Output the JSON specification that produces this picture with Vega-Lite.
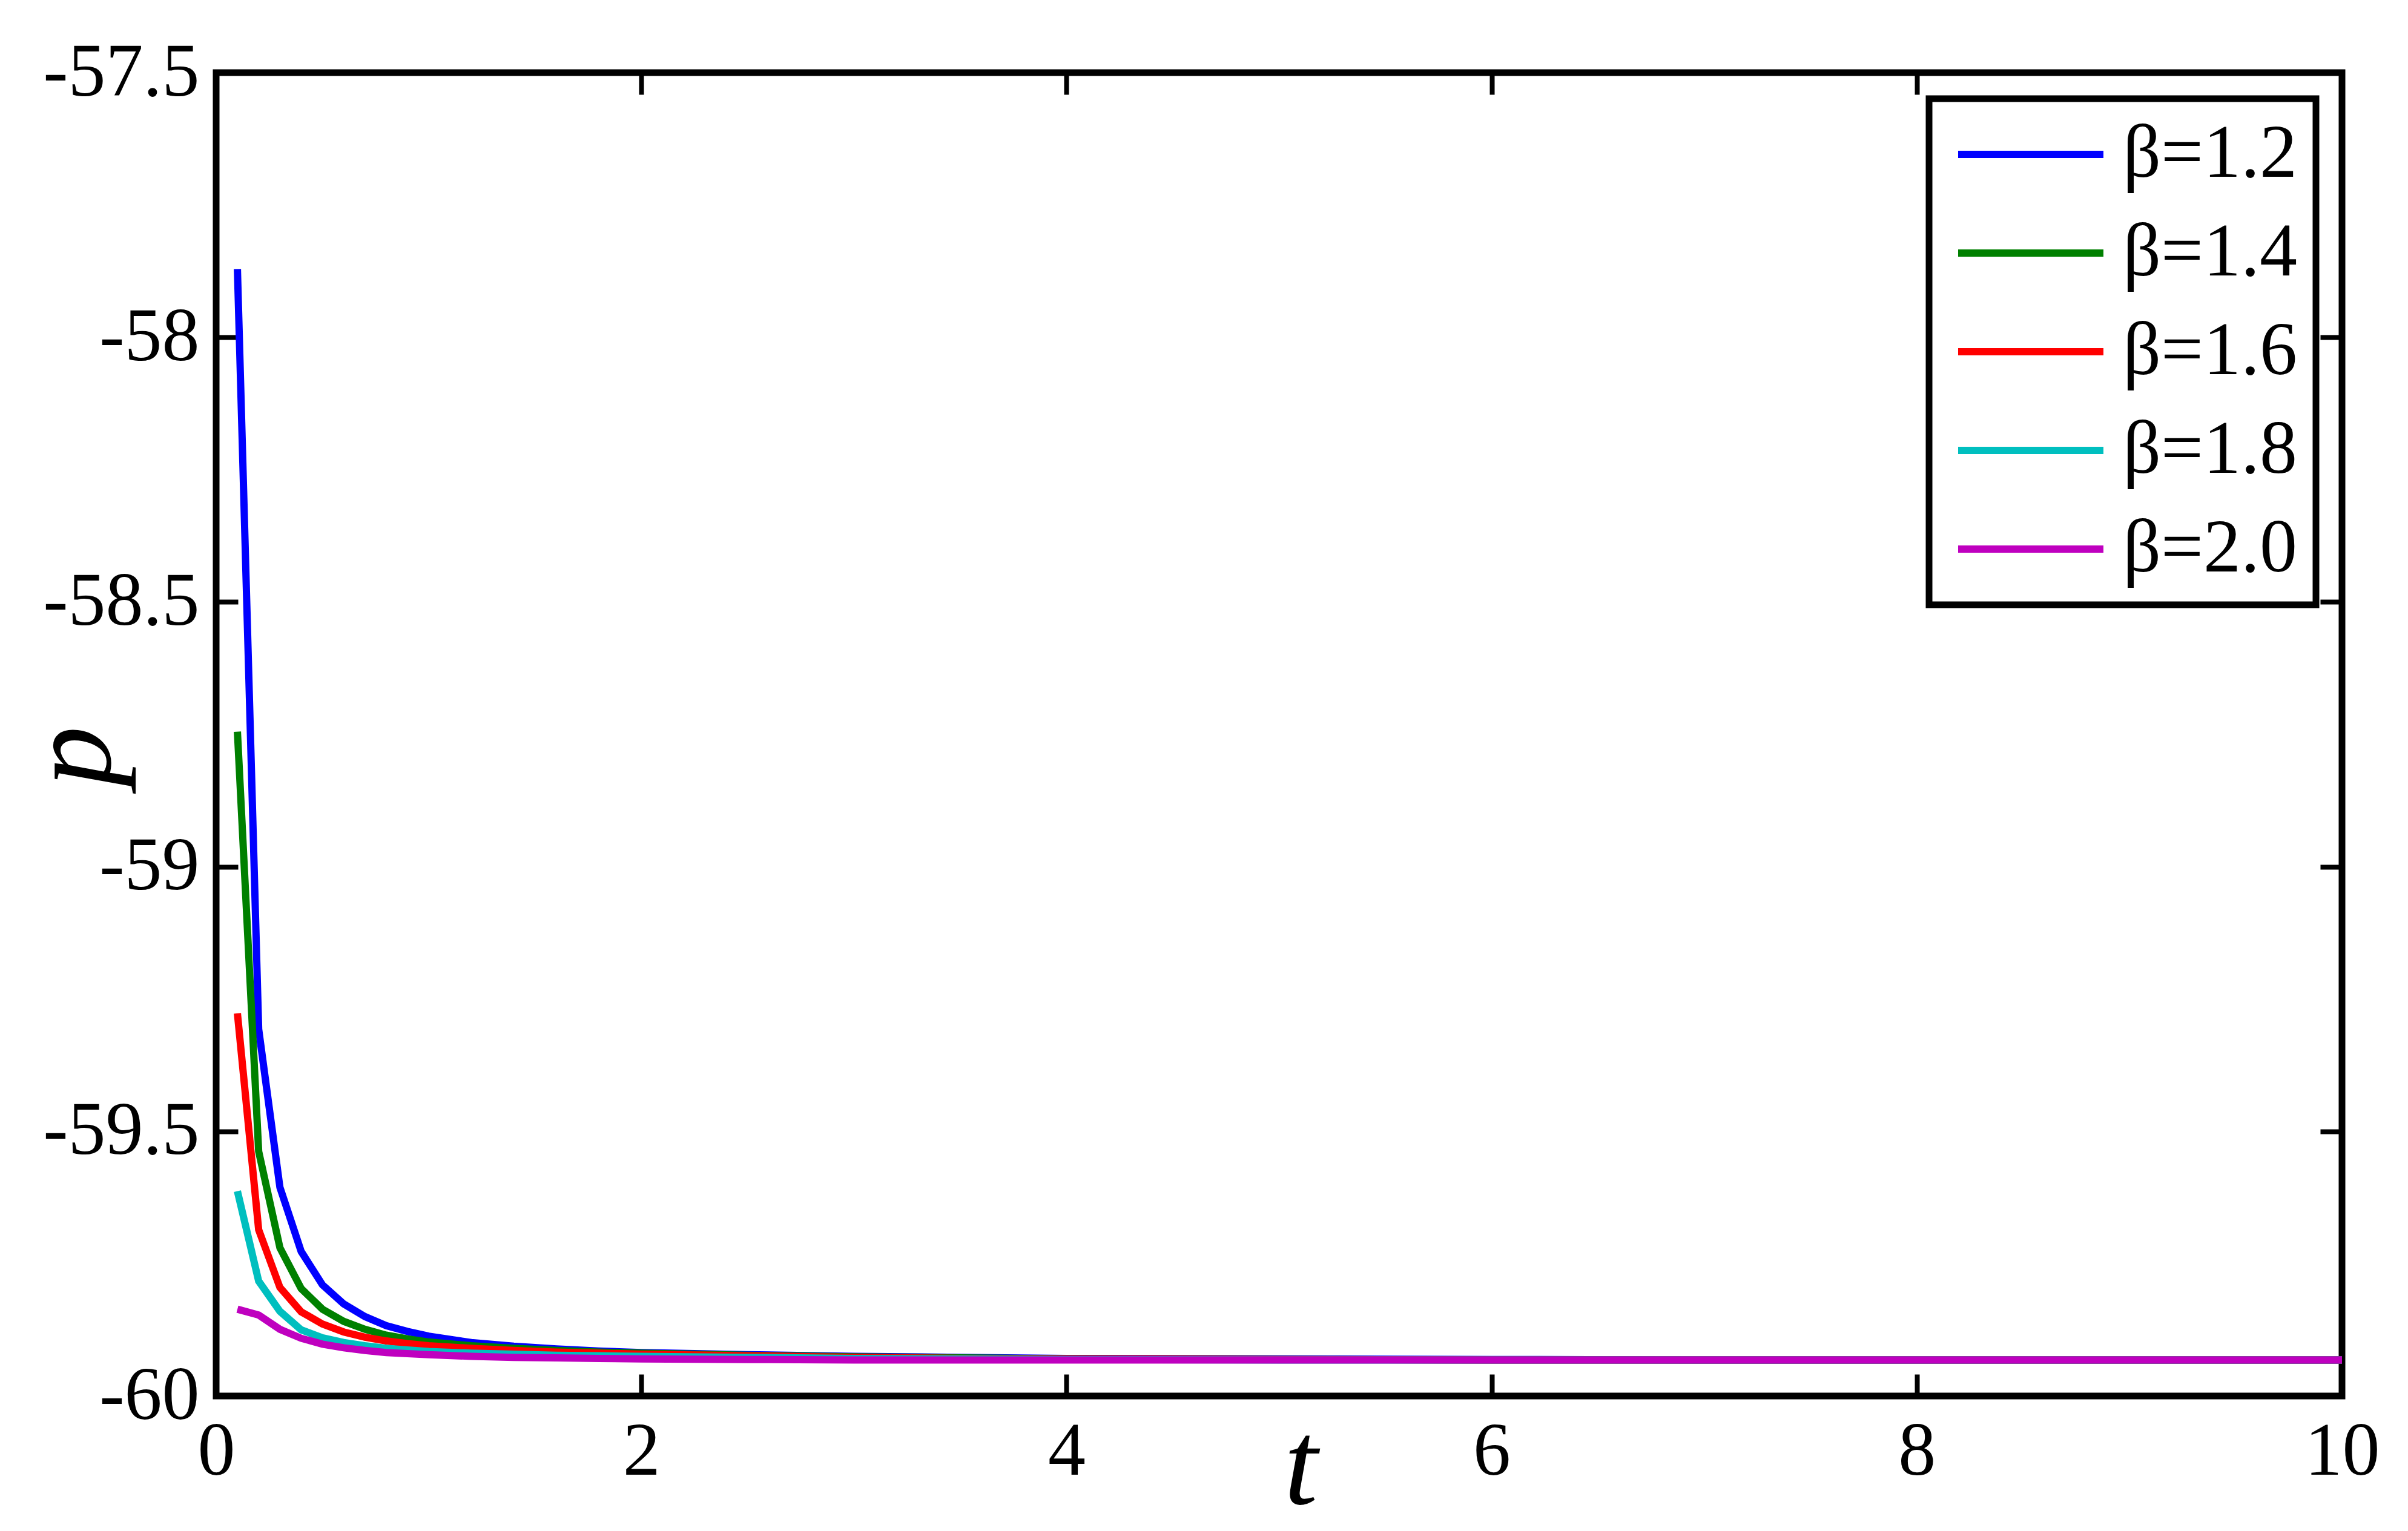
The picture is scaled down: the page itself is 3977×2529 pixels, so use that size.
{
 "$schema": "https://vega.github.io/schema/vega-lite/v6.json",
 "autosize": {"type": "none"},
 "padding": {"left": 357, "top": 120, "right": 109, "bottom": 223},
 "width": 3511,
 "height": 2186,
 "background": "white",
 "config": {
  "view": {"stroke": "black", "strokeWidth": 11},
  "axis": {"domain": false, "grid": false, "ticks": true, "tickSize": -36, "tickWidth": 8, "tickColor": "black",
   "labelFont": "Liberation Serif", "labelFontSize": 124, "labelColor": "black", "labelFlush": false, "labelOverlap": false, "labelBound": false, "labelLimit": 0,
   "titleFont": "Liberation Serif", "titleFontSize": 200, "titleFontStyle": "italic", "titleFontWeight": "normal", "titleColor": "black"},
  "legend": {"strokeWidth": 11}
 },
 "datasets": {
  "d": [
   {"t":0.1,"p":-57.871,"b":"β=1.2"},{"t":0.2,"p":-59.307,"b":"β=1.2"},{"t":0.3,"p":-59.606,"b":"β=1.2"},{"t":0.4,"p":-59.727,"b":"β=1.2"},{"t":0.5,"p":-59.790,"b":"β=1.2"},{"t":0.6,"p":-59.826,"b":"β=1.2"},{"t":0.7,"p":-59.850,"b":"β=1.2"},{"t":0.8,"p":-59.867,"b":"β=1.2"},{"t":0.9,"p":-59.878,"b":"β=1.2"},{"t":1.0,"p":-59.887,"b":"β=1.2"},{"t":1.2,"p":-59.899,"b":"β=1.2"},{"t":1.4,"p":-59.906,"b":"β=1.2"},{"t":1.6,"p":-59.911,"b":"β=1.2"},{"t":1.8,"p":-59.915,"b":"β=1.2"},{"t":2.0,"p":-59.918,"b":"β=1.2"},{"t":2.5,"p":-59.922,"b":"β=1.2"},{"t":3.0,"p":-59.925,"b":"β=1.2"},{"t":3.5,"p":-59.927,"b":"β=1.2"},{"t":4.0,"p":-59.929,"b":"β=1.2"},{"t":5.0,"p":-59.930,"b":"β=1.2"},{"t":6.0,"p":-59.931,"b":"β=1.2"},{"t":7.0,"p":-59.932,"b":"β=1.2"},{"t":8.0,"p":-59.932,"b":"β=1.2"},{"t":9.0,"p":-59.932,"b":"β=1.2"},{"t":10.0,"p":-59.932,"b":"β=1.2"},
   {"t":0.1,"p":-58.745,"b":"β=1.4"},{"t":0.2,"p":-59.538,"b":"β=1.4"},{"t":0.3,"p":-59.720,"b":"β=1.4"},{"t":0.4,"p":-59.797,"b":"β=1.4"},{"t":0.5,"p":-59.836,"b":"β=1.4"},{"t":0.6,"p":-59.859,"b":"β=1.4"},{"t":0.7,"p":-59.874,"b":"β=1.4"},{"t":0.8,"p":-59.885,"b":"β=1.4"},{"t":0.9,"p":-59.892,"b":"β=1.4"},{"t":1.0,"p":-59.898,"b":"β=1.4"},{"t":1.2,"p":-59.905,"b":"β=1.4"},{"t":1.4,"p":-59.910,"b":"β=1.4"},{"t":1.6,"p":-59.914,"b":"β=1.4"},{"t":1.8,"p":-59.917,"b":"β=1.4"},{"t":2.0,"p":-59.919,"b":"β=1.4"},{"t":2.5,"p":-59.923,"b":"β=1.4"},{"t":3.0,"p":-59.926,"b":"β=1.4"},{"t":3.5,"p":-59.928,"b":"β=1.4"},{"t":4.0,"p":-59.930,"b":"β=1.4"},{"t":5.0,"p":-59.931,"b":"β=1.4"},{"t":6.0,"p":-59.932,"b":"β=1.4"},{"t":7.0,"p":-59.932,"b":"β=1.4"},{"t":8.0,"p":-59.932,"b":"β=1.4"},{"t":9.0,"p":-59.932,"b":"β=1.4"},{"t":10.0,"p":-59.932,"b":"β=1.4"},
   {"t":0.1,"p":-59.277,"b":"β=1.6"},{"t":0.2,"p":-59.686,"b":"β=1.6"},{"t":0.3,"p":-59.795,"b":"β=1.6"},{"t":0.4,"p":-59.841,"b":"β=1.6"},{"t":0.5,"p":-59.864,"b":"β=1.6"},{"t":0.6,"p":-59.879,"b":"β=1.6"},{"t":0.7,"p":-59.889,"b":"β=1.6"},{"t":0.8,"p":-59.896,"b":"β=1.6"},{"t":0.9,"p":-59.901,"b":"β=1.6"},{"t":1.0,"p":-59.905,"b":"β=1.6"},{"t":1.2,"p":-59.910,"b":"β=1.6"},{"t":1.4,"p":-59.914,"b":"β=1.6"},{"t":1.6,"p":-59.917,"b":"β=1.6"},{"t":1.8,"p":-59.919,"b":"β=1.6"},{"t":2.0,"p":-59.921,"b":"β=1.6"},{"t":2.5,"p":-59.924,"b":"β=1.6"},{"t":3.0,"p":-59.927,"b":"β=1.6"},{"t":3.5,"p":-59.929,"b":"β=1.6"},{"t":4.0,"p":-59.930,"b":"β=1.6"},{"t":5.0,"p":-59.931,"b":"β=1.6"},{"t":6.0,"p":-59.932,"b":"β=1.6"},{"t":7.0,"p":-59.932,"b":"β=1.6"},{"t":8.0,"p":-59.932,"b":"β=1.6"},{"t":9.0,"p":-59.932,"b":"β=1.6"},{"t":10.0,"p":-59.932,"b":"β=1.6"},
   {"t":0.1,"p":-59.613,"b":"β=1.8"},{"t":0.2,"p":-59.783,"b":"β=1.8"},{"t":0.3,"p":-59.840,"b":"β=1.8"},{"t":0.4,"p":-59.875,"b":"β=1.8"},{"t":0.5,"p":-59.890,"b":"β=1.8"},{"t":0.6,"p":-59.899,"b":"β=1.8"},{"t":0.7,"p":-59.905,"b":"β=1.8"},{"t":0.8,"p":-59.910,"b":"β=1.8"},{"t":0.9,"p":-59.913,"b":"β=1.8"},{"t":1.0,"p":-59.916,"b":"β=1.8"},{"t":1.2,"p":-59.919,"b":"β=1.8"},{"t":1.4,"p":-59.921,"b":"β=1.8"},{"t":1.6,"p":-59.923,"b":"β=1.8"},{"t":1.8,"p":-59.924,"b":"β=1.8"},{"t":2.0,"p":-59.925,"b":"β=1.8"},{"t":2.5,"p":-59.927,"b":"β=1.8"},{"t":3.0,"p":-59.929,"b":"β=1.8"},{"t":3.5,"p":-59.930,"b":"β=1.8"},{"t":4.0,"p":-59.931,"b":"β=1.8"},{"t":5.0,"p":-59.932,"b":"β=1.8"},{"t":6.0,"p":-59.932,"b":"β=1.8"},{"t":7.0,"p":-59.932,"b":"β=1.8"},{"t":8.0,"p":-59.932,"b":"β=1.8"},{"t":9.0,"p":-59.932,"b":"β=1.8"},{"t":10.0,"p":-59.932,"b":"β=1.8"},
   {"t":0.1,"p":-59.836,"b":"β=2.0"},{"t":0.2,"p":-59.847,"b":"β=2.0"},{"t":0.3,"p":-59.874,"b":"β=2.0"},{"t":0.4,"p":-59.891,"b":"β=2.0"},{"t":0.5,"p":-59.902,"b":"β=2.0"},{"t":0.6,"p":-59.909,"b":"β=2.0"},{"t":0.7,"p":-59.914,"b":"β=2.0"},{"t":0.8,"p":-59.918,"b":"β=2.0"},{"t":0.9,"p":-59.920,"b":"β=2.0"},{"t":1.0,"p":-59.922,"b":"β=2.0"},{"t":1.2,"p":-59.925,"b":"β=2.0"},{"t":1.4,"p":-59.927,"b":"β=2.0"},{"t":1.6,"p":-59.928,"b":"β=2.0"},{"t":1.8,"p":-59.929,"b":"β=2.0"},{"t":2.0,"p":-59.930,"b":"β=2.0"},{"t":2.5,"p":-59.931,"b":"β=2.0"},{"t":3.0,"p":-59.932,"b":"β=2.0"},{"t":3.5,"p":-59.932,"b":"β=2.0"},{"t":4.0,"p":-59.932,"b":"β=2.0"},{"t":5.0,"p":-59.932,"b":"β=2.0"},{"t":6.0,"p":-59.932,"b":"β=2.0"},{"t":7.0,"p":-59.932,"b":"β=2.0"},{"t":8.0,"p":-59.932,"b":"β=2.0"},{"t":9.0,"p":-59.932,"b":"β=2.0"},{"t":10.0,"p":-59.932,"b":"β=2.0"}
  ]
 },
 "layer": [
  {
   "data": {"name": "d"},
   "mark": {"type": "line", "opacity": 0},
   "encoding": {
    "x": {"field": "t", "type": "quantitative", "scale": {"domain": [0, 10], "nice": false},
     "axis": {"orient": "top", "labels": false, "title": null, "values": [0, 2, 4, 6, 8, 10]}},
    "y": {"field": "p", "type": "quantitative", "scale": {"domain": [-60, -57.5], "nice": false, "zero": false},
     "axis": {"orient": "right", "labels": false, "title": null, "values": [-60, -59.5, -59, -58.5, -58, -57.5]}}
   }
  },
  {
   "data": {"name": "d"},
   "mark": {"type": "line", "strokeWidth": 12, "strokeCap": "butt", "strokeJoin": "miter"},
   "encoding": {
    "x": {"field": "t", "type": "quantitative", "scale": {"domain": [0, 10], "nice": false},
     "axis": {"orient": "bottom", "values": [0, 2, 4, 6, 8, 10], "labelPadding": 67, "labelExpr": "'' + datum.value",
      "title": "t", "titleX": 1791, "titleY": 177, "titleAlign": "center", "titleBaseline": "alphabetic", "titleAngle": 0}},
    "y": {"field": "p", "type": "quantitative", "scale": {"domain": [-60, -57.5], "nice": false, "zero": false},
     "axis": {"orient": "left", "values": [-60, -59.5, -59, -58.5, -58, -57.5], "labelPadding": 64, "labelExpr": "'' + datum.value",
      "title": "p", "titleX": -176, "titleY": 1129, "titleAlign": "center", "titleBaseline": "alphabetic", "titleAngle": -90}},
    "color": {"field": "b", "type": "nominal",
     "scale": {"domain": ["β=1.2", "β=1.4", "β=1.6", "β=1.8", "β=2.0"], "range": ["#0000ff", "#008000", "#ff0000", "#00bfbf", "#bf00bf"]},
     "legend": {"title": null, "orient": "top-right", "offset": 43, "symbolType": "M-1.467,0H6.533", "symbolSize": 3600, "symbolStrokeWidth": 12,
      "labelFont": "Liberation Serif", "labelFontSize": 124, "labelColor": "black", "labelOffset": 166, "labelLimit": 0,
      "strokeColor": "black", "fillColor": "white", "padding": 30, "rowPadding": 39,
      "encode": {"legend": {"update": {"strokeWidth": {"value": 11}}}}}}
   }
  }
 ],
 "resolve": {"axis": {"x": "independent", "y": "independent"}}
}
